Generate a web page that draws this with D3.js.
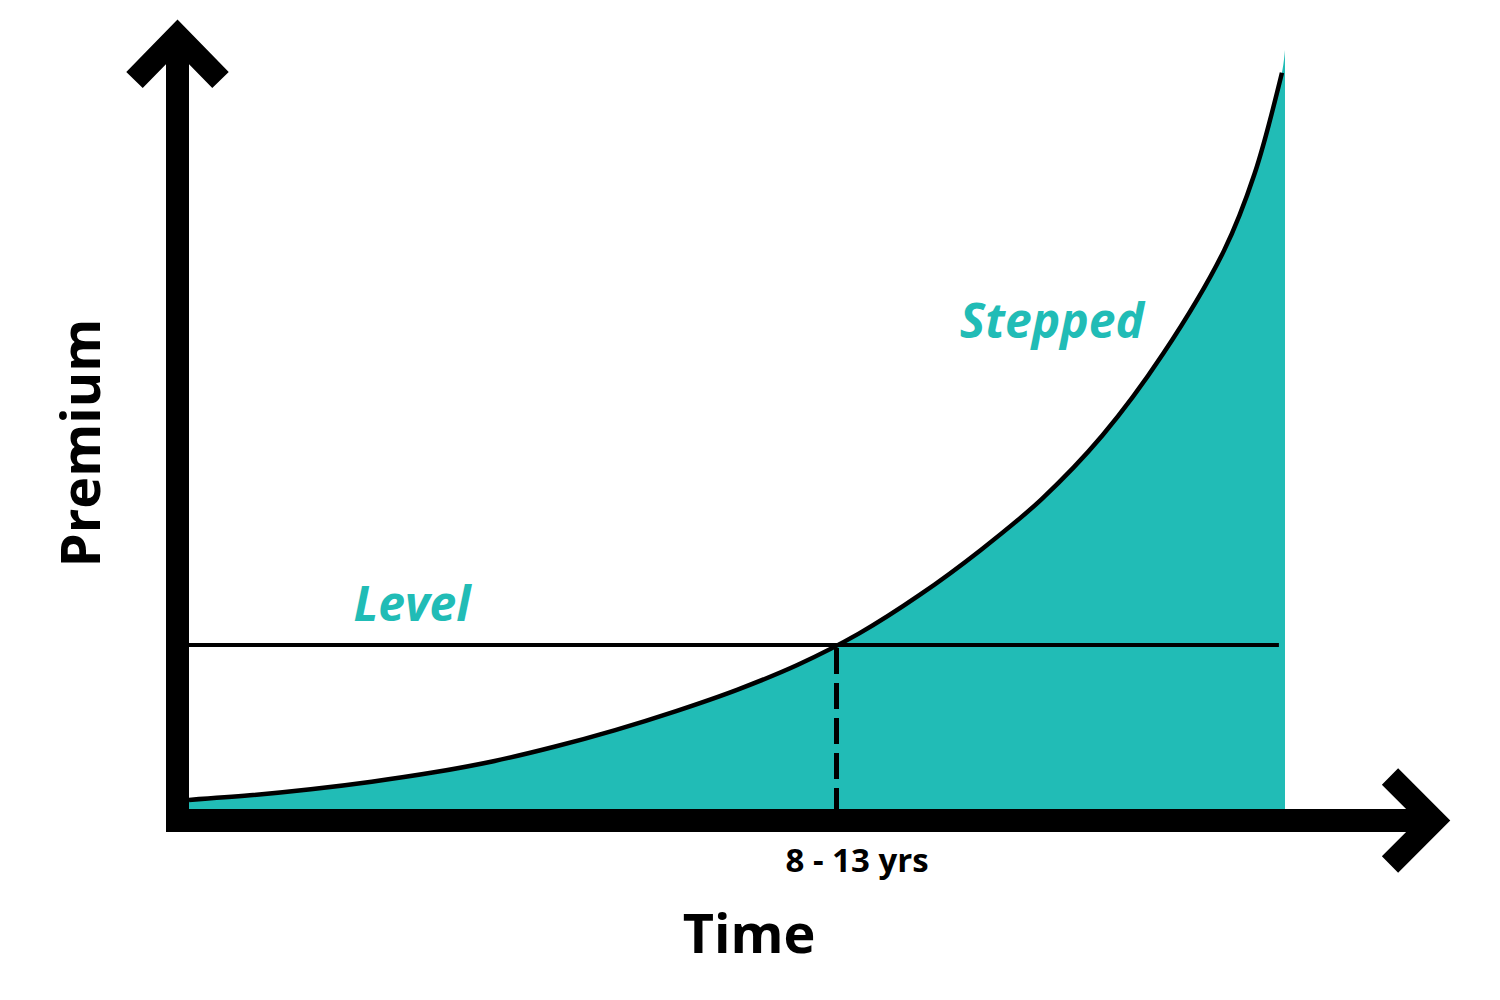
<!DOCTYPE html>
<head>
  <meta charset="utf-8">
  <script src="https://d3js.org/d3.v7.min.js"></script>
</head>
<style>
  body { margin: 0; background: #fff; }
  text { font-family: "Open Sans", sans-serif; font-weight: 700; }
</style>
<body>
  <svg id="svg_chart"></svg>
</body>
<script>
  var w = 1500;
  var h = 1000;

  // data (premium in arbitrary units)
  var years   = [0, 1, 2, 3, 4, 5, 6, 7, 8, 9, 10, 11, 12, 13, 14, 15, 16, 17, 17.5, 17.95];
  var stepped = [1.2, 1.8, 2.6, 3.6, 4.8, 6.3, 8.2, 10.4, 12.9, 15.7, 19.0, 23.1, 28.2, 34.1, 40.8, 49.2, 60.0, 73.6, 83.7, 97.0];
  var fillEnd = [18, 100];        // the teal fill runs a touch past the line
  var levelPremium = 21.6;
  var levelYears = [0, 17.9];
  var labels = {x: "Time", y: "Premium", cross: "8 - 13 yrs", level: "Level", stepped: "Stepped"};

  var teal = "#21bcb6";

  var x = d3.scaleLinear().domain([0, 18]).range([189, 1285]);
  var y = d3.scaleLinear().domain([0, 100]).range([809, 50]);

  var svg = d3.select("#svg_chart")
      .attr("width", w)
      .attr("height", h);

  var pts = years.map(function(d, i){ return [d, stepped[i]]; });
  var fillPts = pts.concat([fillEnd]);

  // filled area under the stepped premium
  var area = d3.area()
      .x(function(d){ return x(d[0]); })
      .y0(y(0))
      .y1(function(d){ return y(d[1]); })
      .curve(d3.curveCatmullRom.alpha(0.5));

  svg.append("path")
      .attr("d", area(fillPts))
      .attr("fill", teal);

  var line = d3.line()
      .x(function(d){ return x(d[0]); })
      .y(function(d){ return y(d[1]); })
      .curve(d3.curveCatmullRom.alpha(0.5));

  svg.append("path")
      .attr("d", line(pts))
      .attr("fill", "none")
      .attr("stroke", "#000")
      .attr("stroke-width", 4.5);

  // level premium
  svg.append("line")
      .attr("x1", x(levelYears[0]))
      .attr("x2", x(levelYears[1]))
      .attr("y1", y(levelPremium))
      .attr("y2", y(levelPremium))
      .attr("stroke", "#000")
      .attr("stroke-width", 4);

  // where the two cross
  var cross = 0;
  for (var i = 1; i < pts.length; i++) {
    if (pts[i-1][1] <= levelPremium && pts[i][1] >= levelPremium) {
      var t = (levelPremium - pts[i-1][1]) / (pts[i][1] - pts[i-1][1]);
      cross = pts[i-1][0] + t * (pts[i][0] - pts[i-1][0]);
      break;
    }
  }

  svg.append("line")
      .attr("x1", x(cross))
      .attr("x2", x(cross))
      .attr("y1", y(levelPremium) + 3)
      .attr("y2", y(0))
      .attr("stroke", "#000")
      .attr("stroke-width", 5)
      .attr("stroke-dasharray", "26 9");

  // axes as thick arrows
  var ax = x(0) - 11.5;
  var ay = y(0) + 11.5;
  var axes = svg.append("g")
      .attr("fill", "none")
      .attr("stroke", "#000")
      .attr("stroke-width", 23)
      .attr("stroke-linejoin", "miter")
      .attr("stroke-linecap", "butt");

  axes.append("path").attr("d", "M" + ax + "," + (ay + 11.5) + "V36");
  axes.append("path").attr("d", "M" + (ax - 43) + ",80L" + ax + ",36L" + (ax + 43) + ",80");
  axes.append("path").attr("d", "M" + (ax - 11.5) + "," + ay + "H1434");
  axes.append("path").attr("d", "M1390," + (ay - 44) + "L1434," + ay + "L1390," + (ay + 44));

  // text
  svg.append("text")
      .attr("transform", "translate(100,443) rotate(-90)")
      .attr("text-anchor", "middle")
      .attr("font-size", 54)
      .text(labels.y);

  svg.append("text")
      .attr("x", 749)
      .attr("y", 953)
      .attr("text-anchor", "middle")
      .attr("font-size", 54)
      .text(labels.x);

  svg.append("text")
      .attr("x", 857)
      .attr("y", 872)
      .attr("text-anchor", "middle")
      .attr("font-size", 33)
      .text(labels.cross);

  svg.append("text")
      .attr("x", 1052)
      .attr("y", 338)
      .attr("text-anchor", "middle")
      .attr("font-size", 48)
      .attr("font-style", "italic")
      .attr("fill", teal)
      .text(labels.stepped);

  svg.append("text")
      .attr("x", 412)
      .attr("y", 621)
      .attr("text-anchor", "middle")
      .attr("font-size", 48)
      .attr("font-style", "italic")
      .attr("fill", teal)
      .text(labels.level);
</script>
